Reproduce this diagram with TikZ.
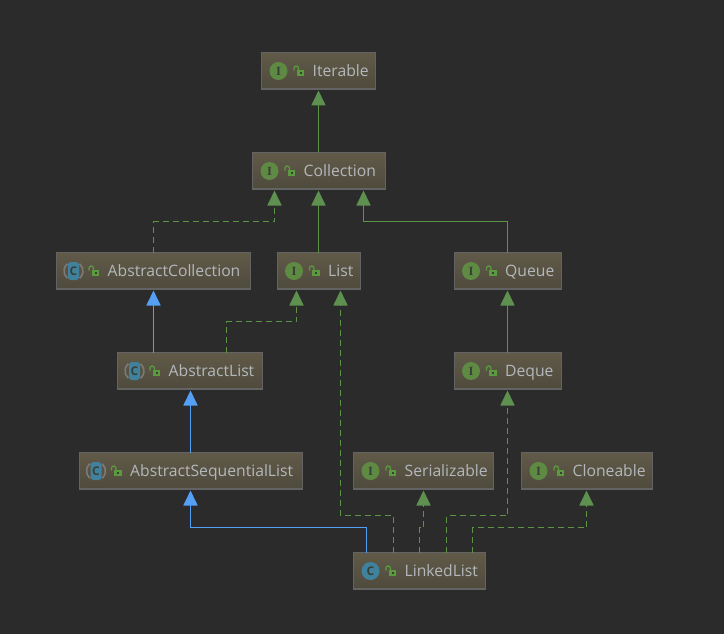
\documentclass[tikz,border=0pt]{standalone}
\usepackage{fontspec}
\setmainfont{Open Sans}
\newfontfamily\iconserif{Liberation Serif}
\usetikzlibrary{arrows.meta,calc}
\definecolor{bg}{HTML}{2B2B2B}
\definecolor{boxtop}{HTML}{615A49}
\definecolor{boxbot}{HTML}{4E4A3C}
\definecolor{boxline}{HTML}{636363}
\definecolor{labelc}{HTML}{B4B8BC}
\definecolor{ifgreen}{HTML}{5F8A43}
\definecolor{lockgreen}{HTML}{5C9A40}
\definecolor{edgegreen}{HTML}{5A9444}
\definecolor{tipgreen}{HTML}{5E9150}
\definecolor{extblue}{HTML}{55A0F5}
\definecolor{cteal}{HTML}{40829E}
\definecolor{arcgray}{HTML}{7A7A7A}
\definecolor{icondark}{HTML}{3A3F36}
\tikzset{
  umlbox/.style={draw=boxline,line width=1pt,top color=boxtop,bottom color=boxbot,inner sep=0pt,outer sep=0pt,minimum height=37pt},
  umllabel/.style={text=labelc,font=\fontsize{15.7}{17}\selectfont,inner sep=0pt,anchor=base west},
  impl/.style={draw=edgegreen,line width=1.75pt,dash pattern=on 6pt off 4pt,-{Triangle[length=15pt,width=14pt,color=tipgreen,fill=tipgreen]}},
  inh/.style={draw=edgegreen,line width=1.75pt,-{Triangle[length=15pt,width=14pt,color=tipgreen,fill=tipgreen]}},
  ext/.style={draw=extblue,line width=1.75pt,-{Triangle[length=15pt,width=14pt,color=extblue,fill=extblue]}},
  icondisc/.style={circle,minimum size=18pt,inner sep=0pt,fill=#1},
  iconletter/.style={text=icondark,inner sep=0pt,font=\iconserif\bfseries\fontsize{12.5}{12.5}\selectfont},
  iconsans/.style={text=icondark,inner sep=0pt,font=\fontsize{12}{12}\selectfont\bfseries},
}
\newcommand{\lockicon}[2]{%
  \fill[lockgreen] (#1-1.8,#2-1.2) rectangle (#1+5.8,#2+5.2);
  \fill[icondark] (#1+1,#2+1.2) rectangle (#1+3,#2+3);
  \draw[lockgreen,line width=1.3pt] (#1-4.5,#2-0.5) -- (#1-4.5,#2-2.8) arc[start angle=180,end angle=360,radius=2.2] -- (#1-0.1,#2-1);
}
% name, left, right, top, kind letter, abstract flag, label
\newcommand{\umlnode}[7]{%
  \pgfmathsetmacro{\cxx}{(#2+#3)/2}\pgfmathsetmacro{\wdd}{#3-#2}
  \pgfmathsetmacro{\cyy}{#4+19}\pgfmathsetmacro{\icx}{#2+17}
  \pgfmathsetmacro{\lkx}{#2+37}\pgfmathsetmacro{\txx}{#2+51}\pgfmathsetmacro{\tyy}{#4+24.7}
  \node[umlbox,minimum width=\wdd pt] (#1) at (\cxx,\cyy) {};
  \draw[boxline,line width=2.4pt] ($(#1.south west)+(0,-0.6)$) -- ($(#1.south east)+(0,-0.6)$);
  \ifnum#6=1
    \draw[arcgray,line width=1.6pt] (\icx,\cyy) ++(130:9.5) arc[start angle=130,end angle=230,radius=9.5];
    \draw[arcgray,line width=1.6pt] (\icx,\cyy) ++(-50:9.5) arc[start angle=-50,end angle=50,radius=9.5];
    \fill[cteal,rounded corners=3pt] (\icx-5.5,\cyy-9) rectangle (\icx+5.5,\cyy+9);
    \node[iconsans] (#1icon) at (\icx,\cyy) {#5};
  \else
    \ifx#5I
      \node[icondisc=ifgreen,iconletter] (#1icon) at (\icx,\cyy) {#5};
    \else
      \node[icondisc=cteal,iconsans] (#1icon) at (\icx,\cyy) {#5};
    \fi
  \fi
  \lockicon{\lkx}{\cyy}
  \node[umllabel] (#1label) at (\txx,\tyy) {#7};
}
\begin{document}
\begin{tikzpicture}[x=1pt,y=-1pt]
\useasboundingbox[fill=bg] (0,0) rectangle (724,634);
\umlnode{iterable}{261.5}{375.5}{52}{I}{0}{Iterable}
\umlnode{collection}{252.5}{385.5}{152}{I}{0}{Collection}
\umlnode{abscoll}{56.5}{250.5}{252}{C}{1}{AbstractCollection}
\umlnode{list}{277}{360}{252}{I}{0}{List}
\umlnode{queue}{454}{561}{252}{I}{0}{Queue}
\umlnode{abslist}{117.5}{262.5}{352}{C}{1}{AbstractList}
\umlnode{deque}{454}{561}{352}{I}{0}{Deque}
\umlnode{absseq}{79}{302}{452}{C}{1}{AbstractSequentialList}
\umlnode{serial}{353.5}{493.5}{452}{I}{0}{Serializable}
\umlnode{clone}{521.5}{652.5}{452}{I}{0}{Cloneable}
\umlnode{linked}{353.5}{485.5}{552}{C}{0}{LinkedList}
\draw[inh] (collection.north -| iterable.south) -- ($(iterable.south)+(0,1)$);
\draw[inh] (list.north) -- ($(list.north |- collection.south)+(0,1)$);
\draw[impl] (abscoll.north) -- ++(0,-31) -| ($(collection.south)+(-44.5,1)$);
\draw[inh] (queue.north) -- ++(0,-31) -| ($(collection.south)+(44.5,1)$);
\draw[ext] (abslist.north -| abscoll.south) -- ($(abscoll.south)+(0,1)$);
\draw[impl] ($(abslist.north west)+(109,0)$) -- ++(0,-31) -| ($(list.south)+(-22,1)$);
\draw[ext] (absseq.north) -- ($(absseq.north |- abslist.south)+(0,1)$);
\draw[inh] (deque.north) -- ($(queue.south)+(0,1)$);
\draw[ext] ($(linked.north west)+(13,0)$) -- ++(0,-25) -| ($(absseq.south)+(0,1)$);
\draw[impl] ($(linked.north west)+(40,0)$) -- ++(0,-37) -| ($(list.south)+(22,1)$);
\draw[impl] ($(linked.north west)+(66,0)$) -- ++(0,-25) -| ($(serial.south)+(0,1)$);
\draw[impl] ($(linked.north west)+(93,0)$) -- ++(0,-37) -| ($(deque.south)+(0,1)$);
\draw[impl] ($(linked.north west)+(119,0)$) -- ++(0,-25) -| ($(clone.south)+(-0.5,1)$);
\end{tikzpicture}
\end{document}
